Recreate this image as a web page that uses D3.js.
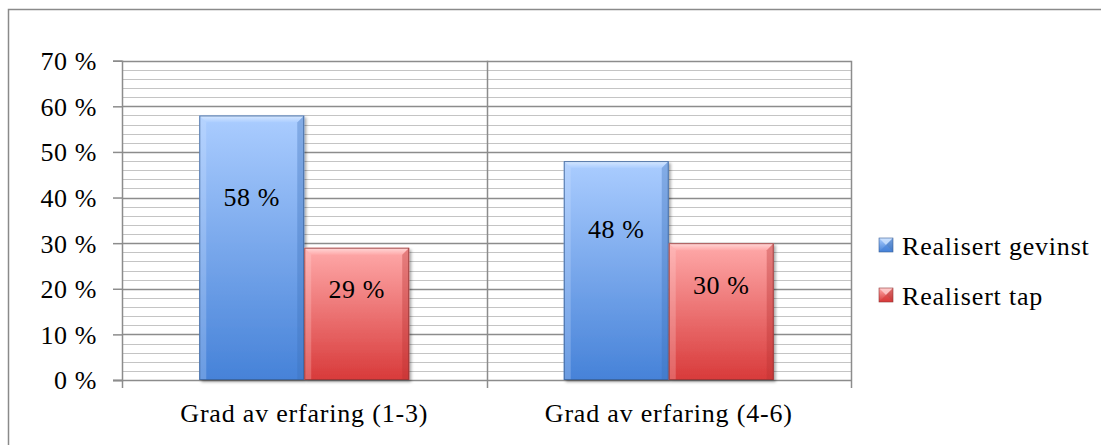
<!DOCTYPE html>
<html>
<head>
<meta charset="utf-8">
<script src="https://cdn.jsdelivr.net/npm/d3@7"></script>
<style>
  html, body { margin: 0; padding: 0; background: #fff; }
  svg { display: block; }
  text { font-family: "Liberation Serif", "Times New Roman", serif; fill: #000; }
</style>
</head>
<body>
<svg id="chart" width="1101" height="445"></svg>
<script>
// Share of realised gains / losses by experience level
const categories = ["Grad av erfaring (1-3)", "Grad av erfaring (4-6)"];
const seriesNames = ["Realisert gevinst", "Realisert tap"];
const gevinst = [58, 48];
const tap = [29, 30];
const yTicks = [0, 10, 20, 30, 40, 50, 60, 70];

const values = [gevinst, tap];

const svg = d3.select("#chart");
const W = 1101, H = 445;
const FS = 26, LS = 0.6;

// Outer chart frame
svg.append("rect")
  .attr("x", 8.5).attr("y", 9.5)
  .attr("width", W + 20).attr("height", H + 20)
  .attr("fill", "none").attr("stroke", "#8a8a8a").attr("stroke-width", 1.5);

const plot = { left: 122, right: 851, top: 60.7, bottom: 380 };

const y = d3.scaleLinear().domain([0, 70]).range([plot.bottom, plot.top]);
const x0 = d3.scaleBand().domain(categories).range([plot.left, plot.right]).padding(0);
const x1 = d3.scaleBand().domain(seriesNames).range([0, x0.bandwidth()])
  .paddingInner(0).paddingOuter(0.736);

const defs = svg.append("defs");
const palettes = {
  "Realisert gevinst": { top: "#abcdff", bottom: "#4682d8", stroke: "#3a5f94", light: "#d8e9ff", dark: "#3b6fb8" },
  "Realisert tap": { top: "#ffaaaa", bottom: "#d83a3a", stroke: "#8f3636", light: "#ffdada", dark: "#b83030" }
};
seriesNames.forEach((s, i) => {
  const p = palettes[s];
  const g = defs.append("linearGradient").attr("id", "grad" + i)
    .attr("x1", 0).attr("y1", 0).attr("x2", 0).attr("y2", 1);
  g.append("stop").attr("offset", "0%").attr("stop-color", p.top);
  g.append("stop").attr("offset", "100%").attr("stop-color", p.bottom);
  const gt = defs.append("linearGradient").attr("id", "top" + i)
    .attr("x1", 0).attr("y1", 0).attr("x2", 0).attr("y2", 1);
  gt.append("stop").attr("offset", "0%").attr("stop-color", p.light);
  gt.append("stop").attr("offset", "100%").attr("stop-color", p.top);
});
const sh = defs.append("filter").attr("id", "shadow")
  .attr("x", "-10%").attr("y", "-10%").attr("width", "130%").attr("height", "130%");
sh.append("feDropShadow").attr("dx", 2).attr("dy", 2).attr("stdDeviation", 1.8)
  .attr("flood-color", "#000").attr("flood-opacity", 0.35);

// Gridlines: minor every 2 %, major every 10 %
const grid = svg.append("g");
const minor = d3.range(0, 70.001, 2).filter(v => v % 10 !== 0);
grid.selectAll("line.minor").data(minor).join("line")
  .attr("x1", plot.left).attr("x2", plot.right)
  .attr("y1", d => Math.round(y(d)) + 0.5).attr("y2", d => Math.round(y(d)) + 0.5)
  .attr("stroke", "#c4c4c4").attr("stroke-width", 1.2);
grid.selectAll("line.major").data(yTicks.filter(v => v > 0)).join("line")
  .attr("x1", plot.left).attr("x2", plot.right)
  .attr("y1", d => Math.round(y(d)) + 0.5).attr("y2", d => Math.round(y(d)) + 0.5)
  .attr("stroke", "#8c8c8c").attr("stroke-width", 1.5);

// Vertical category dividers and right edge
const vx = [x0(categories[1]), plot.right];
grid.selectAll("line.v").data(vx).join("line")
  .attr("x1", d => Math.round(d) + 0.5).attr("x2", d => Math.round(d) + 0.5)
  .attr("y1", plot.top).attr("y2", plot.bottom)
  .attr("stroke", "#8c8c8c").attr("stroke-width", 1.5);

// Y axis
const yAxis = d3.axisLeft(y).tickValues(yTicks).tickSize(9).tickPadding(16)
  .tickFormat(d => d + " %");
const ya = svg.append("g").attr("transform", `translate(${plot.left},0)`).call(yAxis);
ya.select(".domain").attr("stroke", "#8c8c8c").attr("stroke-width", 1.5);
ya.selectAll(".tick line").attr("stroke", "#8c8c8c").attr("stroke-width", 1.5);
ya.selectAll(".tick text").attr("font-size", FS).attr("letter-spacing", LS)
  .attr("font-family", "Liberation Serif").attr("dy", "0.34em");

// X axis baseline with ticks at category edges
const xa = svg.append("g");
xa.append("line").attr("x1", plot.left - 9).attr("x2", plot.right)
  .attr("y1", plot.bottom + 0.5).attr("y2", plot.bottom + 0.5)
  .attr("stroke", "#8c8c8c").attr("stroke-width", 1.5);
xa.selectAll("line.t").data([plot.left, x0(categories[1]), plot.right]).join("line")
  .attr("x1", d => Math.round(d) + 0.5).attr("x2", d => Math.round(d) + 0.5)
  .attr("y1", plot.bottom).attr("y2", plot.bottom + 8)
  .attr("stroke", "#8c8c8c").attr("stroke-width", 1.5);
xa.selectAll("text").data(categories).join("text")
  .attr("x", d => x0(d) + x0.bandwidth() / 2)
  .attr("y", 422)
  .attr("text-anchor", "middle")
  .attr("font-size", FS).attr("letter-spacing", 0.8)
  .text(d => d);

// Bars with a bevelled top and shaded sides
const bevel = 7;
const bars = [];
categories.forEach((c, ci) => {
  seriesNames.forEach((s, si) => {
    bars.push({ c, s, si, v: values[si][ci] });
  });
});
const bg = svg.append("g").selectAll("g").data(bars).join("g");
bg.each(function (d) {
  const g = d3.select(this);
  const bx = x0(d.c) + x1(d.s), bw = x1.bandwidth();
  const by = y(d.v), bh = y(0) - y(d.v);
  const p = palettes[d.s];
  g.append("rect").attr("x", bx).attr("y", by).attr("width", bw).attr("height", bh)
    .attr("fill", `url(#grad${d.si})`).attr("filter", "url(#shadow)");
  const b = Math.min(bevel, bh / 2);
  g.append("polygon")
    .attr("points", [[bx, by], [bx + bw, by], [bx + bw - b, by + b], [bx + b, by + b]].join(" "))
    .attr("fill", `url(#top${d.si})`);
  g.append("polygon")
    .attr("points", [[bx, by], [bx + b, by + b], [bx + b, by + bh], [bx, by + bh]].join(" "))
    .attr("fill", p.light).attr("opacity", 0.25);
  g.append("polygon")
    .attr("points", [[bx + bw, by], [bx + bw - b, by + b], [bx + bw - b, by + bh], [bx + bw, by + bh]].join(" "))
    .attr("fill", p.dark).attr("opacity", 0.35);
  g.append("rect").attr("x", bx + 0.5).attr("y", by + 0.5).attr("width", bw - 1).attr("height", bh - 1)
    .attr("fill", "none").attr("stroke", p.stroke).attr("stroke-width", 1).attr("opacity", 0.8);
  g.append("text")
    .attr("x", bx + bw / 2)
    .attr("y", y(d.v * 0.69))
    .attr("dy", "0.34em")
    .attr("text-anchor", "middle")
    .attr("font-size", FS).attr("letter-spacing", LS)
    .text(d.v + " %");
});

// Legend
const lg = svg.append("g").selectAll("g").data(seriesNames).join("g")
  .attr("transform", (d, i) => `translate(879, ${238 + i * 50})`);
lg.each(function (s, i) {
  const g = d3.select(this);
  const p = palettes[s];
  const sz = 14;
  g.append("rect").attr("width", sz).attr("height", sz).attr("fill", `url(#grad${i})`);
  g.append("polygon").attr("points", [[0, 0], [sz, 0], [sz / 2, sz / 2]].join(" ")).attr("fill", p.light).attr("opacity", 0.7);
  g.append("polygon").attr("points", [[sz, 0], [sz, sz], [sz / 2, sz / 2]].join(" ")).attr("fill", p.dark).attr("opacity", 0.5);
  g.append("polygon").attr("points", [[0, sz], [sz, sz], [sz / 2, sz / 2]].join(" ")).attr("fill", p.bottom).attr("opacity", 0.6);
  g.append("rect").attr("width", sz).attr("height", sz).attr("fill", "none").attr("stroke", p.stroke).attr("stroke-width", 0.6);
  g.append("text").attr("x", 23).attr("y", 17).attr("font-size", FS).attr("letter-spacing", 0.8).text(s);
});
</script>
</body>
</html>
